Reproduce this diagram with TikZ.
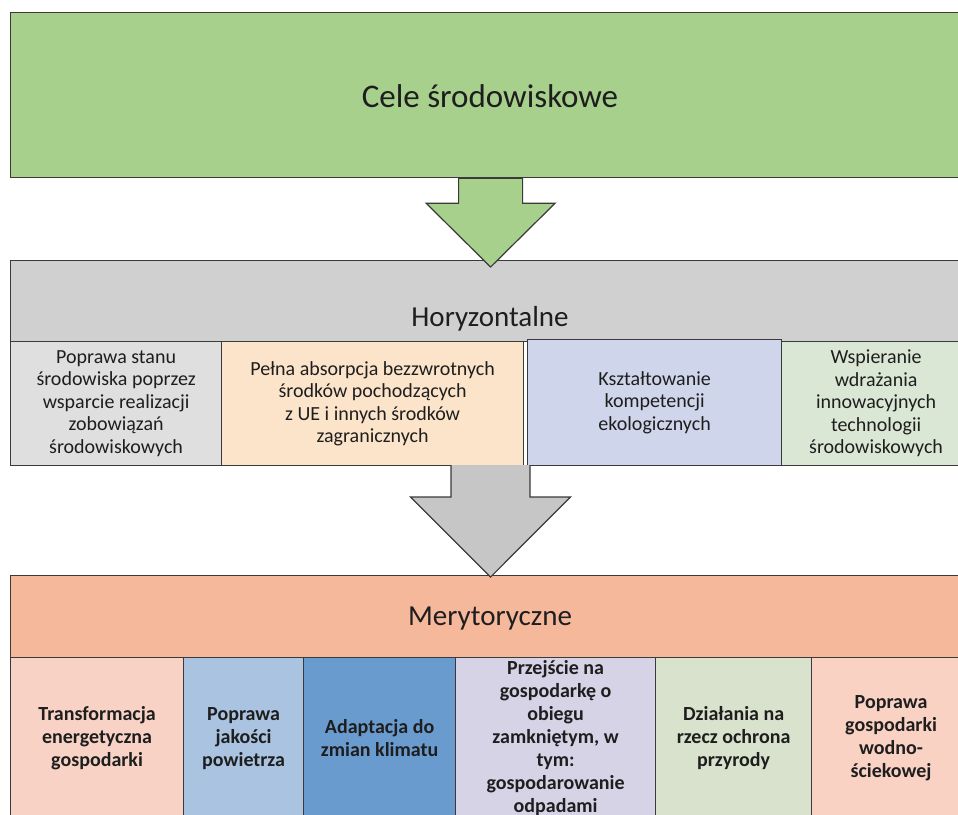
\documentclass[tikz,border=0pt]{standalone}
\usepackage{fontspec}
\setmainfont{Carlito}
\usetikzlibrary{calc}

\definecolor{edge}{HTML}{3A3A3A}
\definecolor{ink}{HTML}{1E1E1E}
\definecolor{celegreen}{HTML}{A8D08D}
\definecolor{horgray}{HTML}{D0D0D0}
\definecolor{arrowgray}{HTML}{C6C6C6}
\definecolor{popgray}{HTML}{DFDFDF}
\definecolor{abspeach}{HTML}{FCE4CB}
\definecolor{komplilac}{HTML}{CFD5EA}
\definecolor{wspgreen}{HTML}{DBE7D5}
\definecolor{mersalmon}{HTML}{F5B89B}
\definecolor{transpink}{HTML}{F8D3C5}
\definecolor{powblue}{HTML}{A9C3E1}
\definecolor{adaptblue}{HTML}{6A9BCF}
\definecolor{gosplilac}{HTML}{D6D3E7}
\definecolor{przyrgreen}{HTML}{D8E2CC}
\definecolor{wodapink}{HTML}{F9D2C4}

\tikzset{
  box/.style={draw=edge, line width=1.2pt, anchor=north west, inner sep=0pt,
    align=center, text=ink, font=\fontsize{20}{22.5}\selectfont},
  boldbox/.style={box, font=\fontsize{20}{23}\selectfont\bfseries},
  blockarrow/.style={draw=edge, line width=1.2pt, line join=miter},
}

\begin{document}
\begin{tikzpicture}[x=1pt, y=-1pt]
  \useasboundingbox (0,0) rectangle (958,814);
  % three levels
  \node[box, fill=celegreen, minimum width=960pt, minimum height=165pt] (cele) at (10,12) {};
  \node[text=ink, font=\fontsize{33}{36}\selectfont] at (490,96) {Cele środowiskowe};
  \node[box, fill=horgray, minimum width=960pt, minimum height=81pt] (hor) at (10,260) {};
  \node[text=ink, font=\fontsize{29}{32}\selectfont] at (490,319) {Horyzontalne};
  \node[box, fill=mersalmon, minimum width=960pt, minimum height=82pt] (mer) at (10,575) {};
  \node[text=ink, font=\fontsize{29}{32}\selectfont] at (490,619) {Merytoryczne};
  % horizontal goals
  \node[box, fill=popgray, minimum width=211pt, minimum height=124pt] (pop) at (10,341)
    {Poprawa stanu\\środowiska poprzez\\wsparcie realizacji\\zobowiązań\\środowiskowych};
  \node[box, fill=abspeach, minimum width=302pt, minimum height=124pt] (abs) at (221,341)
    {Pełna absorpcja bezzwrotnych\\środków pochodzących\\z UE i innych środków\\zagranicznych};
  \node[box, fill=komplilac, minimum width=254pt, minimum height=126pt] (komp) at (527,339)
    {Kształtowanie\\kompetencji\\ekologicznych};
  \node[box, fill=wspgreen, minimum width=189pt, minimum height=124pt] (wsp) at (781,341)
    {Wspieranie\\wdrażania\\innowacyjnych\\technologii\\środowiskowych};
  \coordinate (hbot) at (490.5,465);
  % substantive goals
  \node[boldbox, fill=transpink, minimum width=173pt, minimum height=161pt] (trans) at (10,657)
    {Transformacja\\energetyczna\\gospodarki};
  \node[boldbox, fill=powblue, minimum width=120pt, minimum height=161pt] (pow) at (183,657)
    {Poprawa\\jakości\\powietrza};
  \node[boldbox, fill=adaptblue, minimum width=152pt, minimum height=161pt] (adapt) at (303,657)
    {Adaptacja do\\zmian klimatu};
  \node[boldbox, fill=gosplilac, minimum width=200pt, minimum height=161pt] (gosp) at (455,657)
    {Przejście na\\gospodarkę o\\obiegu\\zamkniętym, w\\tym:\\gospodarowanie\\odpadami};
  \node[boldbox, fill=przyrgreen, minimum width=156pt, minimum height=161pt] (przyr) at (655,657)
    {Działania na\\rzecz ochrona\\przyrody};
  \node[boldbox, fill=wodapink, minimum width=159pt, minimum height=161pt] (woda) at (811,657)
    {Poprawa\\gospodarki\\wodno-\\ściekowej};
  % block arrows
  \draw[blockarrow, fill=celegreen] ($(cele.south)+(-32,0)$) -- ++(0,25) -- ++(-32.5,0)
    -- ($(hor.north)+(0,7)$) -- ($(cele.south)+(64.5,25)$) -- ++(-32.5,0)
    -- ($(cele.south)+(32,0)$) -- cycle;
  \draw[blockarrow, fill=arrowgray] ($(hbot)+(-39.5,0)$) -- ++(0,32) -- ++(-40.5,0)
    -- ($(mer.north)+(0,2)$) -- ($(hbot)+(80,32)$) -- ++(-40.5,0)
    -- ($(hbot)+(39.5,0)$);
\end{tikzpicture}
\end{document}
